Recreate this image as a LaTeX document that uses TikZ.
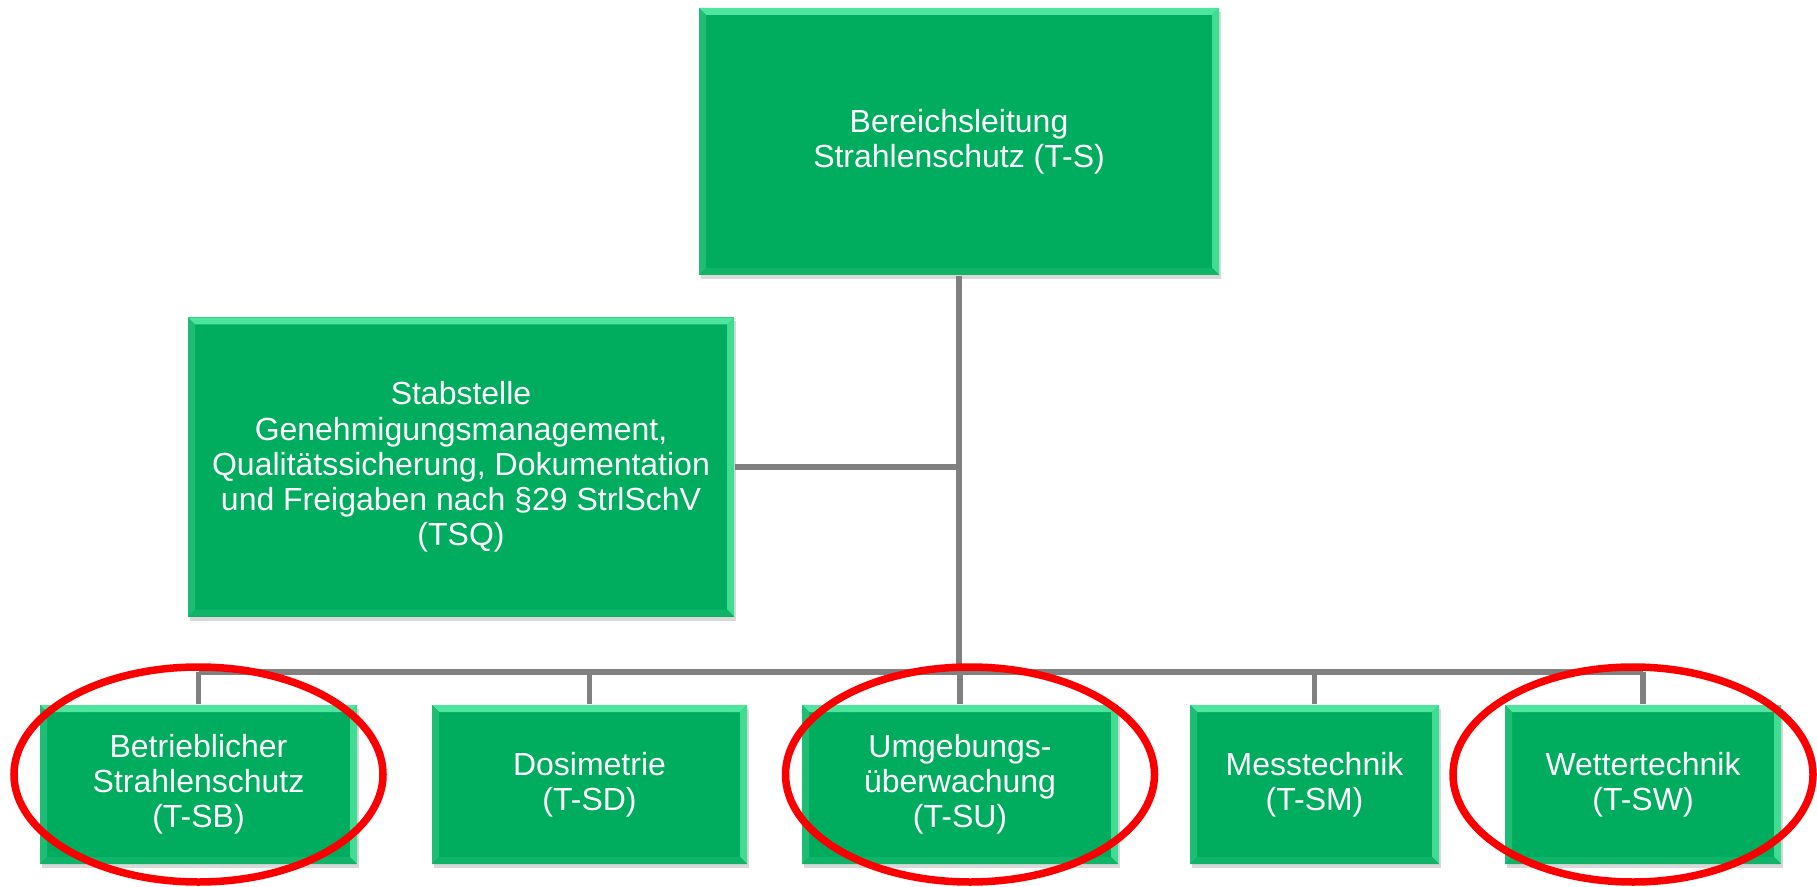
\documentclass[tikz,border=0pt]{standalone}
\usepackage{fontspec}
\setmainfont{Liberation Sans}
\usepackage{tikz}
\usetikzlibrary{shadows}
\usetikzlibrary{calc}
\definecolor{boxgreen}{RGB}{0,172,94}
\definecolor{bevtop}{RGB}{92,240,170}
\definecolor{bevside}{RGB}{30,188,116}
\definecolor{linkgray}{RGB}{128,128,128}
\definecolor{ringred}{RGB}{250,0,0}

\begin{document}
\begin{tikzpicture}
            \tikzset{box/.style={fill=boxgreen, text=white, align=center, inner sep=0pt,
                font=\fontsize{9.1}{10}\selectfont,
                drop shadow={opacity=0.3, shadow xshift=0.02, shadow yshift=-0.04},
                path picture={
                    \coordinate (nw) at (path picture bounding box.north west);
                    \coordinate (ne) at (path picture bounding box.north east);
                    \coordinate (sw) at (path picture bounding box.south west);
                    \coordinate (se) at (path picture bounding box.south east);
                    \fill[bevtop!85!boxgreen] (nw) -- (ne) -- ($(ne)+(-0.07,-0.07)$) -- ($(nw)+(0.07,-0.07)$) -- cycle;
                    \fill[bevtop!70!boxgreen] (ne) -- (se) -- ($(se)+(-0.07,0.07)$) -- ($(ne)+(-0.07,-0.07)$) -- cycle;
                    \fill[bevside] (nw) -- (sw) -- ($(sw)+(0.07,0.07)$) -- ($(nw)+(0.07,-0.07)$) -- cycle;
                    \fill[bevside!50!boxgreen] (sw) -- (se) -- ($(se)+(-0.07,0.07)$) -- ($(sw)+(0.07,0.07)$) -- cycle;
                }}}
            \tikzset{link/.style={line width=0.055cm, linkgray}}
            \tikzset{ring/.style={line width=0.075cm, ringred}}
            \useasboundingbox (0, 0) rectangle (18.17, 8.86);

            \node[box, minimum width=5.20cm, minimum height=2.67cm] (ts) at (9.59, 7.445) {Bereichsleitung\\Strahlenschutz (T-S)};
            \node[box, minimum width=5.46cm, minimum height=2.99cm] (tsq) at (4.61, 4.19) {Stabstelle\\Genehmigungsmanagement,\\Qualitätssicherung, Dokumentation\\und Freigaben nach §29 StrlSchV\\(TSQ)};
            \node[box, minimum width=3.17cm, minimum height=1.59cm] (tsb) at (1.985, 1.015) {Betrieblicher\\Strahlenschutz\\(T-SB)};
            \node[box, minimum width=3.15cm, minimum height=1.59cm] (tsd) at (5.895, 1.015) {Dosimetrie\\(T-SD)};
            \node[box, minimum width=3.16cm, minimum height=1.59cm] (tsu) at (9.60, 1.015) {Umgebungs-\\überwachung\\(T-SU)};
            \node[box, minimum width=2.49cm, minimum height=1.59cm] (tsm) at (13.145, 1.015) {Messtechnik\\(T-SM)};
            \node[box, minimum width=2.76cm, minimum height=1.59cm] (tsw) at (16.43, 1.015) {Wettertechnik\\(T-SW)};

            \coordinate (bus) at (0, 2.14);
            \draw[link] (ts.south) -- (ts.south |- bus);
            \draw[link] (tsq.east) -- (tsq.east -| ts.south);
            \draw[link] (tsb.north |- bus) -- (tsw.north |- bus);
            \foreach \n in {tsb, tsd, tsu, tsm, tsw}
                \draw[link] (\n.north |- bus) -- (\n.north);

            \draw[ring] ([shift={(0, 0.1)}]tsb.center) ellipse [x radius=1.845, y radius=1.075];
            \draw[ring] ([shift={(0.1, 0.1)}]tsu.center) ellipse [x radius=1.845, y radius=1.075];
            \draw[ring] ([shift={(-0.1, 0.1)}]tsw.center) ellipse [x radius=1.80, y radius=1.075];
        \end{tikzpicture}
\end{document}
